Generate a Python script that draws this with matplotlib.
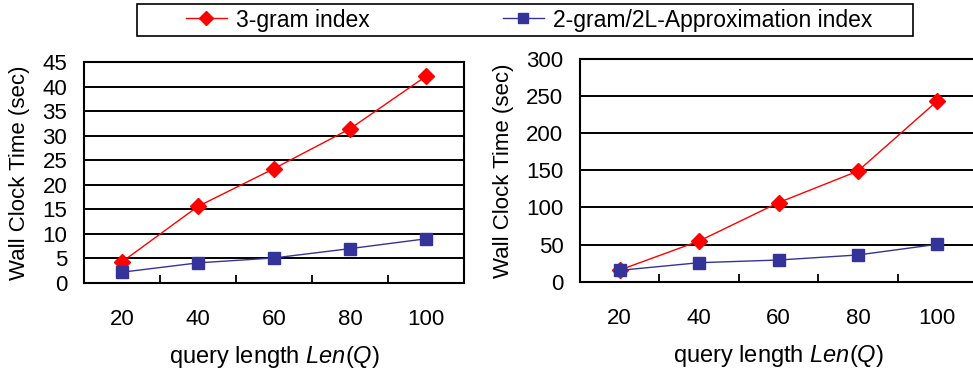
import matplotlib
matplotlib.use("Agg")
import matplotlib.pyplot as plt
import matplotlib.patches as patches
import numpy as np

plt.rcParams['font.family'] = ['Liberation Sans', 'DejaVu Sans']
plt.rcParams['mathtext.fontset'] = 'custom'
plt.rcParams['mathtext.it'] = 'Liberation Sans:italic'
plt.rcParams['mathtext.rm'] = 'Liberation Sans'

# data
query_len = ['20', '40', '60', '80', '100']
trigram_a = [4.3, 15.6, 23.3, 31.4, 42.1]
bigram_a = [2.2, 4.1, 5.1, 7.0, 9.0]
trigram_b = [15.7, 54.8, 106.5, 149.0, 243.5]
bigram_b = [15.3, 25.6, 29.2, 36.0, 50.4]

RED = '#ff0000'
BLUE = '#333399'

fig = plt.figure(figsize=(9.73, 3.71), dpi=100)
ax1 = fig.add_axes([84/973, 1-283/371, 380/973, 221/371])
ax2 = fig.add_axes([580/973, 1-281.7/371, 397/973, 222.7/371])


def style(ax, ymax, ystep):
    x = np.arange(len(query_len))
    ax.set_xlim(-0.5, len(query_len) - 0.5)
    ax.set_ylim(0, ymax)
    ax.set_yticks(np.arange(0, ymax + 1, ystep))
    ax.set_xticks(x)
    ax.set_xticklabels(query_len)
    ax.set_xticks(x[:-1] + 0.5, minor=True)
    ax.tick_params(axis='x', which='major', length=0, pad=19, labelsize=16)
    ax.tick_params(axis='x', which='minor', direction='in', length=6, width=1.3)
    ax.tick_params(axis='y', length=0, pad=12, labelsize=16)
    for s in ax.spines.values():
        s.set_linewidth(1.5)
        s.set_color('black')
    ax.yaxis.grid(True, color='black', lw=1.4)
    ax.set_axisbelow(True)
    ax.set_ylabel('Wall Clock Time (sec)', fontsize=16, labelpad=9)
    ax.set_xlabel(r'query length $\mathit{Len(Q)}$', fontsize=17, labelpad=10)


x = np.arange(len(query_len))
h1, = ax1.plot(x, trigram_a, color=RED, lw=1, marker='D', ms=8, label='3-gram index', zorder=3)
h2, = ax1.plot(x, bigram_a, color=BLUE, lw=1, marker='s', ms=8, label='2-gram/2L-Approximation index', zorder=3)
ax2.plot(x, trigram_b, color=RED, lw=1, marker='D', ms=8, zorder=3)
ax2.plot(x, bigram_b, color=BLUE, lw=1, marker='s', ms=8, zorder=3)

style(ax1, 45, 5)
style(ax2, 300, 50)

# legend box
fig.patches.append(patches.Rectangle((137/973, 1-36/371), 776/973, 32/371,
                                     transform=fig.transFigure, fill=False,
                                     ec='black', lw=1.2))
fig.legend(handles=[h1, h2], loc='center', bbox_to_anchor=(529/973, 1-20/371),
           ncol=2, frameon=False, fontsize=16.5, handlelength=1.8,
           handletextpad=0.4, columnspacing=5.8, markerscale=0.9)

fig.savefig('out.png', dpi=100)
